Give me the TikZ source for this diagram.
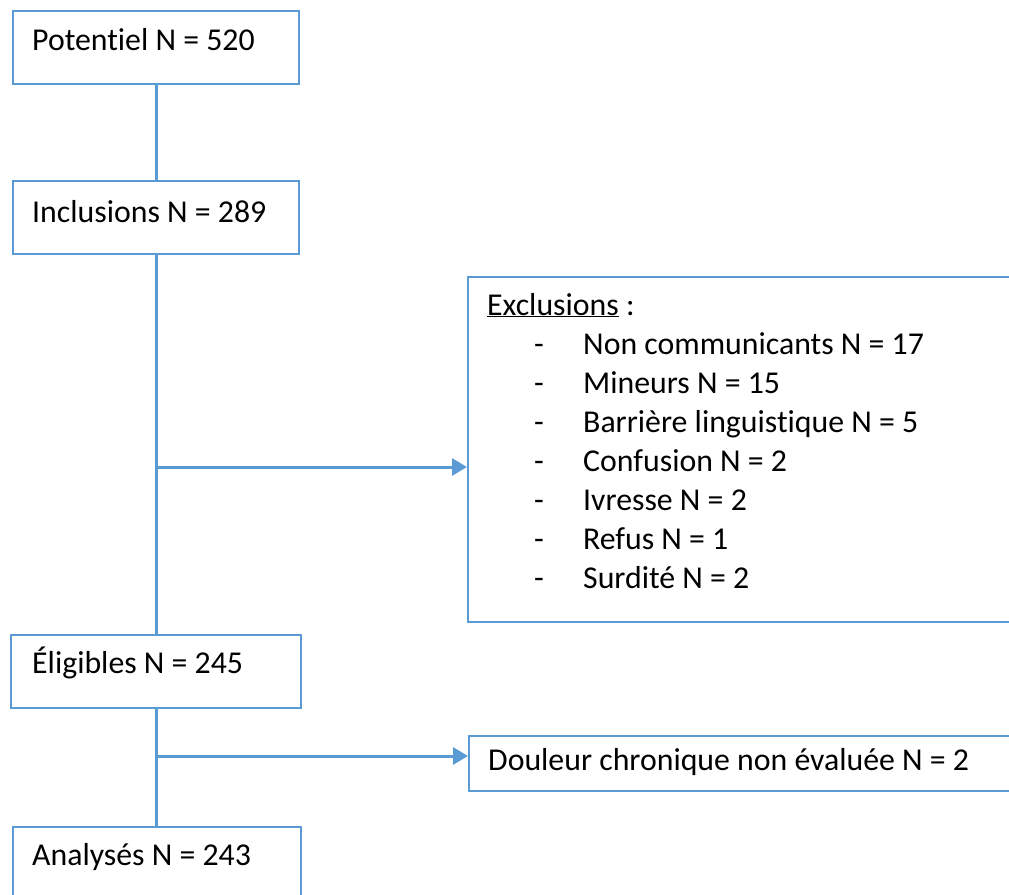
\documentclass[tikz,border=0pt]{standalone}
\usepackage{fontspec}
\setmainfont{Carlito}[Ligatures={NoCommon}]
\usetikzlibrary{arrows.meta,calc}
\definecolor{flowblue}{HTML}{5B9BD5}
\begin{document}
\begin{tikzpicture}[x=1pt,y=-1pt,
  box/.style={draw=flowblue,line width=2pt,fill=white,anchor=north west,inner sep=0pt},
  lbl/.style={anchor=base west,inner sep=0pt,font=\fontsize{31.8}{38}\selectfont},
  conn/.style={draw=flowblue,line width=3pt},
  arr/.style={conn,-{Triangle[length=15pt,width=17pt]}}]
\useasboundingbox (0,0) rectangle (1009,894);
\clip (0,0) rectangle (1009,894);
% boxes
\node[box,minimum width=286pt,minimum height=73pt] (pot) at (12,10) {};
\node[box,minimum width=286pt,minimum height=73pt] (inc) at (12,180) {};
\node[box,minimum width=290pt,minimum height=73pt] (eli) at (10,634) {};
\node[box,minimum width=288pt,minimum height=80pt] (ana) at (12,826) {};
\node[box,minimum width=560pt,minimum height=345pt] (exc) at (467,276) {};
\node[box,minimum width=560pt,minimum height=55pt] (dou) at (468,735) {};
% texts
\node[lbl] (tpot) at (32,50) {Potentiel N = 520};
\node[lbl] (tinc) at (32,222) {Inclusions N = 289};
\node[lbl] (teli) at (32,673) {Éligibles N = 245};
\node[lbl] (tana) at (32,865) {Analysés N = 243};
\node[lbl] (tdou) at (488,770) {Douleur chronique non évaluée N = 2};
\node[lbl] (texc) at (487,315) {\underline{Exclusions} :};
\foreach \t [count=\i] in {Non communicants N = 17,Mineurs N = 15,Barrière linguistique N = 5,Confusion N = 2,Ivresse N = 2,Refus N = 1,Surdité N = 2}{
  \node[lbl] (d\i) at (534,315+39*\i) {-};
  \node[lbl] (it\i) at (583,315+39*\i) {\t};
}
% connectors
\draw[conn] (pot.south) -- (inc.north);
\draw[conn] (inc.south) -- (eli.north);
\draw[conn] (eli.south) -- (ana.north -| eli.south);
\coordinate (j1) at (inc.south |- 0,467);
\coordinate (j2) at (eli.south |- 0,756);
\draw[arr] (j1) -- (j1 -| exc.west);
\draw[arr] (j2) -- (j2 -| dou.west);
\end{tikzpicture}
\end{document}
